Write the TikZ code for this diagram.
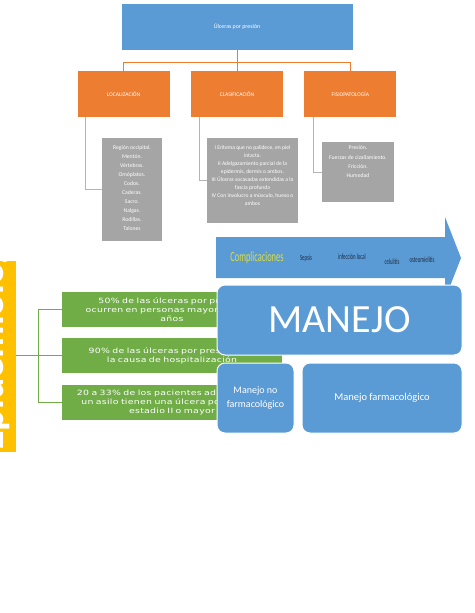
\documentclass[tikz,border=0pt]{standalone}
\usepackage{fontspec}
\setmainfont{Carlito}
\newfontfamily\widefont[FakeStretch=1.3,LetterSpace=4]{DejaVu Sans}
\newfontfamily\narrowfont[FakeStretch=0.6]{Carlito}
\usepackage{tikz}
\usetikzlibrary{positioning}
\definecolor{boxblue}{HTML}{5B9BD5}
\definecolor{headorange}{HTML}{ED7D31}
\definecolor{listgray}{HTML}{A5A5A5}
\definecolor{linegray}{HTML}{B4B4B4}
\definecolor{factgreen}{HTML}{70AD47}
\definecolor{baryellow}{HTML}{FFC000}
\definecolor{compyellow}{HTML}{DCDC3C}
\definecolor{wordnavy}{HTML}{1F2A44}

\begin{document}
\begin{tikzpicture}[x=1pt, y=-1pt,
  topbox/.style={fill=boxblue, text=white, minimum width=231pt, minimum height=46pt, inner sep=0pt, font=\fontsize{5.9}{7}\selectfont},
  headbox/.style={fill=headorange, text=white, minimum width=92pt, minimum height=46pt, inner sep=0pt, font=\fontsize{5.6}{7}\selectfont},
  listbox/.style={fill=listgray, inner sep=0pt},
  listtext/.style={text=white, align=center, inner sep=0pt},
  factbox/.style={fill=factgreen, text=white, align=center, text width=220pt, minimum height=35pt, inner sep=0pt, font=\widefont\fontsize{7.2}{9}\selectfont},
  mgmtbox/.style={fill=boxblue, draw=white, line width=1pt, rounded corners=8pt, text=white, inner sep=0pt, align=center, minimum height=70pt},
  compword/.style={text=wordnavy, inner sep=0pt, font=\narrowfont\fontsize{8}{9}\selectfont},
  orline/.style={draw=headorange, line width=0.9pt},
  grayline/.style={draw=linegray, line width=0.9pt},
  greenline/.style={draw=factgreen, line width=1pt}]
  \useasboundingbox (0,0) rectangle (474,613);

  % tree
  \node[topbox] (top) at (237,27) {Úlceras por presión};
  \node[headbox] (cla) at (237,94) {CLASIFICACIÓN};
  \node[headbox, left=21pt of cla] (loc) {LOCALIZACIÓN};
  \node[headbox, right=21pt of cla] (fis) {FISIOPATOLOGÍA};

  \draw[orline] (top.south) -- ++(0,12) coordinate (hub);
  \draw[orline] (hub) -| (loc.north);
  \draw[orline] (hub) -| (fis.north);
  \draw[orline] (hub) -- (cla.north);

  \node[listbox, minimum width=60pt, minimum height=103pt] (locx) at (132,189.5) {};
  \node[listbox, minimum width=91pt, minimum height=85pt] (clax) at (252.5,180.5) {};
  \node[listbox, minimum width=72pt, minimum height=60pt] (fisx) at (358,172) {};

  \node[listtext, font=\fontsize{5.7}{9}\selectfont, below=8pt of locx.north] (loct)
    {Región occipital.\\Mentón.\\Vértebras.\\Omóplatos.\\Codos.\\Caderas.\\Sacro.\\Nalgas.\\Rodillas.\\Talones};
  \node[listtext, font=\fontsize{5.6}{7.9}\selectfont, below=8pt of clax.north] (clat)
    {I Eritema que no palidece, en piel\\intacta.\\II Adelgazamiento parcial de la\\epidermis, dermis o ambos.\\III Úlceras socavadas extendidas a la\\fascia profunda\\IV Con involucro a músculo, hueso o\\ambos};
  \node[listtext, font=\fontsize{5.7}{9.3}\selectfont, below=4pt of fisx.north] (fist)
    {Presión.\\Fuerzas de cizallamiento.\\Fricción.\\Humedad};

  \draw[grayline] ([xshift=8pt]loc.south west) |- (locx.west);
  \draw[grayline] ([xshift=9pt]cla.south west) |- (clax.west);
  \draw[grayline] ([xshift=9pt]fis.south west) |- (fisx.west);

  % complicaciones
  \fill[boxblue] (216,237) -- (445,237) -- (445,217) -- (461,258) -- (445,299)
    -- (445,278) -- (216,278) -- cycle;
  \node[text=compyellow, inner sep=0pt, font=\narrowfont\fontsize{14}{16}\selectfont] (comp) at (257,258) {Complicaciones};
  \node[compword] (sep) at (306,258) {Sepsis};
  \node[compword] (inf) at (352,257) {infección local};
  \node[compword] (cel) at (392,262) {celulitis};
  \node[compword] (ost) at (422,260) {osteomielitis};

  % epidemiologia
  \node[fill=baryellow, minimum width=16pt, minimum height=191pt, inner sep=0pt] (epi) at (8,356.5) {};
  \begin{scope}
    \clip (epi.south west) rectangle (epi.north east);
    \node[rotate=90, anchor=base west, inner sep=0pt, text=white, font=\bfseries\fontsize{40}{40}\selectfont] (epit) at (3,451) {Epidemiología};
  \end{scope}

  \node[factbox] (g1) at (172,309.5) {50\% de las úlceras por presión\\ocurren en personas mayores de 70\\años};
  \node[factbox, below=11pt of g1] (g2) {90\% de las úlceras por presión son\\la causa de hospitalización};
  \node[factbox, below=11pt of g2] (g3) {20 a 33\% de los pacientes admitidos en\\un asilo tienen una úlcera por presión\\estadio II o mayor};

  \draw[greenline] (epi.east |- g2.west) -- (g2.west);
  \draw[greenline] (g1.west) -- ++(-23,0) |- (g3.west);

  % manejo
  \node[mgmtbox, minimum width=245pt, font=\fontsize{40}{40}\selectfont] (man) at (339.5,320) {MANEJO};
  \node[mgmtbox, minimum width=77pt, font=\fontsize{10}{14}\selectfont] (mno) at (255.5,398) {Manejo no\\farmacológico};
  \node[mgmtbox, minimum width=160pt, font=\fontsize{10.5}{13}\selectfont] (mfa) at (382,398) {Manejo farmacológico};
\end{tikzpicture}
\end{document}
